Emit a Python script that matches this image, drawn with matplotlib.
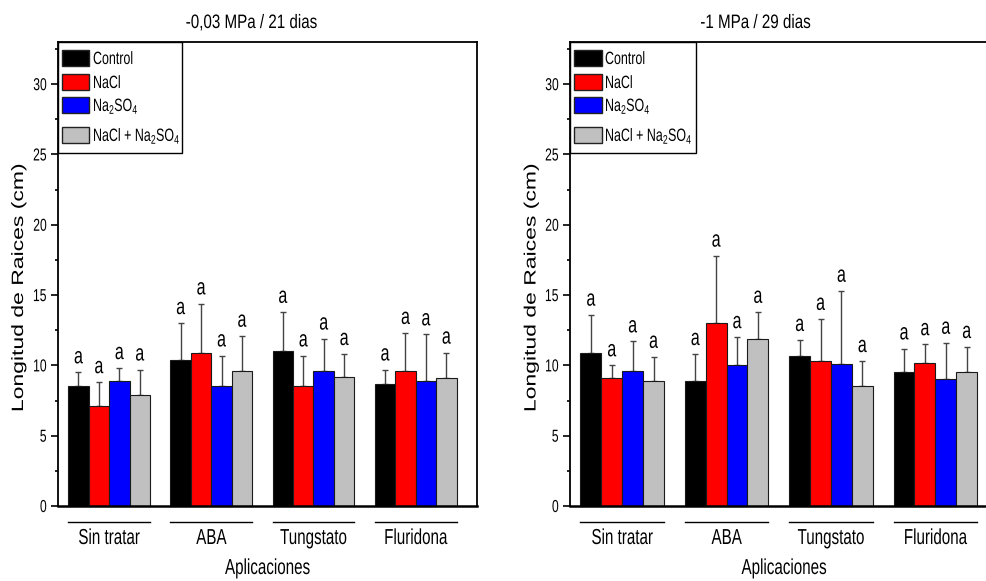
import numpy as np
import matplotlib
matplotlib.use('Agg')
import matplotlib.pyplot as plt
from matplotlib import ticker
from matplotlib.transforms import blended_transform_factory
from matplotlib.patches import Rectangle
from matplotlib.patheffects import AbstractPathEffect
from matplotlib.path import Path

plt.rcParams['font.family'] = ['Liberation Sans', 'DejaVu Sans']

groups = ['Sin tratar', 'ABA', 'Tungstato', 'Fluridona']
series = ['Control', 'NaCl', r'$\mathregular{Na_2SO_4}$', r'NaCl + $\mathregular{Na_2SO_4}$']
colors = ['#000000', '#ff0000', '#0000ff', '#c0c0c0']

# -0,03 MPa / 21 dias  (rows = series, cols = groups)
mean_a = [[8.5, 10.4, 11.0, 8.7],
          [7.1, 10.9, 8.5, 9.6],
          [8.9, 8.5, 9.6, 8.9],
          [7.9, 9.6, 9.2, 9.1]]
top_a = [[9.5, 13.0, 13.8, 9.7],
         [8.8, 14.4, 10.7, 12.3],
         [9.8, 10.7, 11.9, 12.2],
         [9.7, 12.1, 10.8, 10.9]]

# -1 MPa / 29 dias
mean_b = [[10.9, 8.9, 10.7, 9.5],
          [9.1, 13.0, 10.3, 10.2],
          [9.6, 10.0, 10.1, 9.0],
          [8.9, 11.9, 8.5, 9.5]]
top_b = [[13.6, 10.8, 11.8, 11.2],
         [10.0, 17.8, 13.3, 11.5],
         [11.7, 12.0, 15.3, 11.6],
         [10.6, 13.8, 10.3, 11.3]]

letters = 'a'

W, H = 987, 581
fig = plt.figure(figsize=(W / 100, H / 100), dpi=100)


class Squeeze(AbstractPathEffect):
    """Scale glyph outlines along the text baseline (narrow or stretched lettering)."""

    def __init__(self, sx, anchor='center'):
        super().__init__()
        self.sx = sx
        self.anchor = anchor

    def draw_path(self, renderer, gc, tpath, affine, rgbFace=None):
        v = np.array(tpath.vertices, dtype=float)
        if len(v):
            lo, hi = v[:, 0].min(), v[:, 0].max()
            x0 = {'left': lo, 'right': hi}.get(self.anchor, 0.5 * (lo + hi))
            v[:, 0] = x0 + self.sx * (v[:, 0] - x0)
        renderer.draw_path(gc, Path(v, tpath.codes), affine, rgbFace)


NARROW = 0.70
narrow_c = [Squeeze(NARROW, 'center')]
narrow_l = [Squeeze(NARROW, 'left')]
narrow_r = [Squeeze(NARROW, 'right')]


def panel(rect, means, tops, title, title_x, ylab_x, leg_w):
    ax = fig.add_axes([rect[0] / W, 1 - (rect[1] + rect[3]) / H, rect[2] / W, rect[3] / H])
    axw, axh = rect[2], rect[3]

    def frac(dx, dy):
        # pixel offset from the top-left corner of the axes -> axes fraction
        return dx / axw, 1 - dy / axh

    x = np.arange(len(groups))
    w = 0.2
    for i in range(len(series)):
        xi = x - 0.3 + i * w
        m = np.array(means[i])
        err = np.array(tops[i]) - m
        ax.bar(xi, m, w, color=colors[i], edgecolor='#1a1a1a', linewidth=0.8, zorder=2)
        ax.errorbar(xi, m, yerr=[np.zeros_like(err), err], fmt='none',
                    ecolor='#444444', elinewidth=1.0, capsize=2.5, capthick=1.0, zorder=1)
        for xx, t in zip(xi, tops[i]):
            ax.text(xx, t + 0.65, letters, ha='center', va='baseline', fontsize=16.5,
                    path_effects=narrow_c)

    ax.set_xlim(-0.5, 3.6)
    ax.set_ylim(0, 33)
    ax.yaxis.set_major_locator(ticker.MultipleLocator(5))
    ax.yaxis.set_minor_locator(ticker.MultipleLocator(2.5))
    ax.tick_params(axis='y', which='major', direction='out', length=5, width=1.2,
                   labelsize=12.5, pad=3)
    ax.tick_params(axis='y', which='minor', direction='out', length=2.5, width=1.2)
    ax.set_xticks([])
    for s in ax.spines.values():
        s.set_linewidth(1.3)
    ax.spines['bottom'].set_linewidth(1.8)

    # axis title, stretched along its length
    fig.text(ylab_x / W, 1 - 288 / H, 'Longitud de Raices (cm)', fontsize=11.8,
             rotation=90, ha='center', va='center', path_effects=[Squeeze(1.4)])

    # group underlines and names below the axis
    trans = blended_transform_factory(ax.transData, ax.transAxes)
    for k, g in enumerate(groups):
        ax.plot([k - 0.4, k + 0.4], [-16 / axh, -16 / axh], color='black', lw=1.0,
                transform=trans, clip_on=False)
        ax.text(k, -38 / axh, g, transform=trans, ha='center', va='baseline',
                fontsize=15.6, path_effects=narrow_c)
    ax.text(0.5, -68 / axh, 'Aplicaciones', transform=ax.transAxes, ha='center',
            va='baseline', fontsize=15.6, path_effects=narrow_c)

    # legend box drawn by hand so the frame follows the narrow lettering
    fx, fy = frac(leg_w, 111)
    ax.add_patch(Rectangle((0, fy), fx, 1 - fy, transform=ax.transAxes, facecolor='white',
                           edgecolor='black', lw=1.0, zorder=5, clip_on=False))
    rows = [16, 40, 63, 93]
    for c, lab, r in zip(colors, series, rows):
        hx, hy = frac(4, r + 7.5)
        hw, hh = 27.5 / axw, 15 / axh
        ax.add_patch(Rectangle((hx, hy), hw, hh, transform=ax.transAxes, facecolor=c,
                               edgecolor='#222222', lw=1.0, zorder=6))
        tx, ty = frac(35, r + 6)
        ax.text(tx, ty, lab, transform=ax.transAxes, ha='left', va='baseline', fontsize=12.8,
                zorder=7, path_effects=narrow_l)

    fig.text(title_x / W, 1 - 28 / H, title, ha='center', va='baseline', fontsize=14,
             path_effects=[Squeeze(0.78)])
    return ax


ax1 = panel([58, 42, 419, 464], mean_a, top_a, '-0,03 MPa / 21 dias', 252, 18.5, 124)
ax2 = panel([570, 42, 428, 464], mean_b, top_b, '-1 MPa / 29 dias', 756, 531, 126)

fig.canvas.draw()
for ax in (ax1, ax2):
    for lab in ax.get_yticklabels():
        lab.set_path_effects(narrow_r)

fig.savefig('out.png', dpi=100)
